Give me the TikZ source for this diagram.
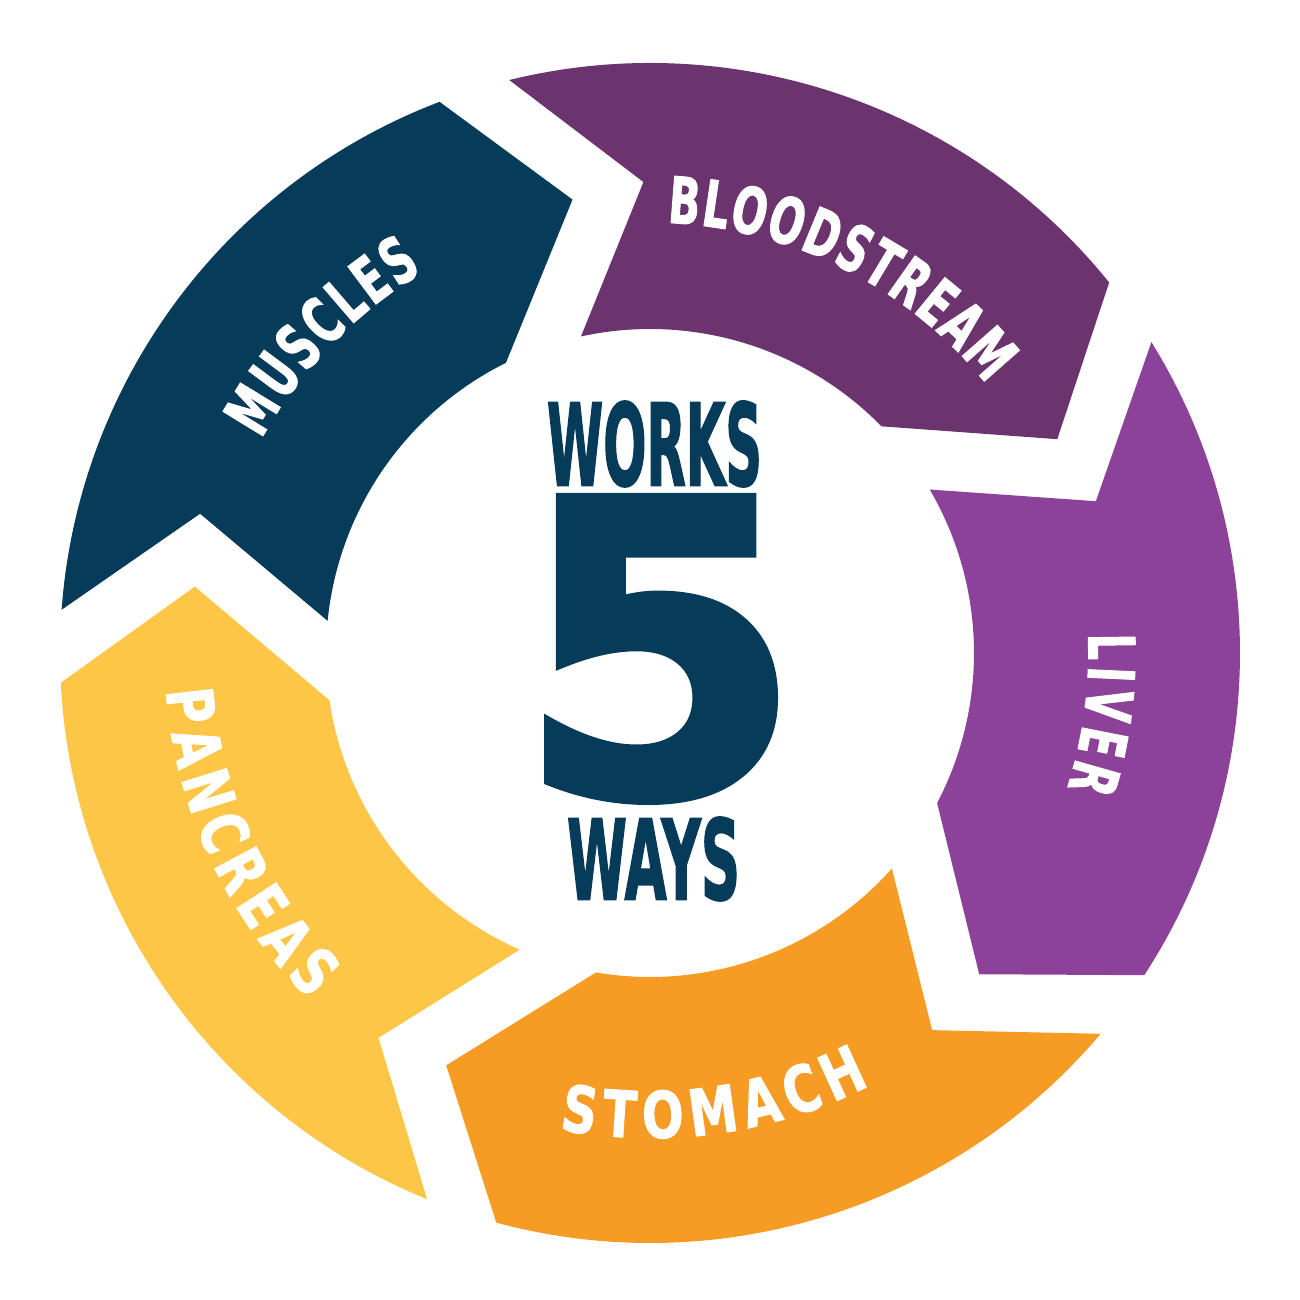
\documentclass[tikz,border=0pt]{standalone}
\usepackage{fontspec}
\usepackage{graphicx}
\usetikzlibrary{decorations.text}

\newfontfamily\labelfont[FakeStretch=0.64, FakeBold=1.5]{DejaVu Sans}
\newfontfamily\widelabelfont[FakeStretch=0.76, FakeBold=1.5]{DejaVu Sans}
\newfontfamily\middlefont[FakeBold=2]{DejaVu Sans}

\definecolor{navy}{HTML}{063B5A}
\definecolor{muscles}{HTML}{063B5A}
\definecolor{blood}{HTML}{6B346E}
\definecolor{liver}{HTML}{8D4299}
\definecolor{stomach}{HTML}{F69C24}
\definecolor{pancreas}{HTML}{FDC647}

\newcommand{\outr}{5.90}
\newcommand{\inr}{3.24}

\begin{document}
\begin{tikzpicture}[
    lbl/.style 2 args={decorate, decoration={text along path,
      text={|#1\bfseries\fontsize{18.3}{20}\selectfont|#2},
      text align={fit to path}, text color=white}},
    mid/.style={inner sep=0pt, text=navy}
  ]

    \useasboundingbox (-6.5,-6.47) rectangle (6.5,6.53);

    \foreach \s/\c in {175.8/muscles, 103.8/blood, 31.8/liver, -40.2/stomach, -112.2/pancreas}
        \fill[\c] (\s:\outr) arc[start angle=\s, end angle=\s-64.9, radius=\outr]
            -- (\s-76.1:4.60) -- (\s-59.4:\inr)
            arc[start angle=\s-59.4, end angle=\s-1.5, radius=\inr]
            -- (\s-13:4.71) -- cycle;

    \path[lbl={\labelfont}{MUSCLES}] (151.2:4.435) arc[start angle=151.2, end angle=120.8, radius=4.435];
    \path[lbl={\labelfont}{BLOODSTREAM}] (87.7:4.305) arc[start angle=87.7, end angle=38.6, radius=4.305];
    \path[lbl={\labelfont}{LIVER}] (2.5:4.385) arc[start angle=2.5, end angle=-17.9, radius=4.385];
    \path[lbl={\widelabelfont}{STOMACH}] (-100.8:4.85) arc[start angle=-100.8, end angle=-63, radius=4.85];
    \path[lbl={\widelabelfont}{PANCREAS}] (184.4:4.855) arc[start angle=184.4, end angle=225.6, radius=4.855];

    \node[mid] (works) at (0.045,2.09) {\resizebox{2.15cm}{0.84cm}{\middlefont\bfseries WORKS}};
    \node[mid] (five) at (0.095,0.04) {\resizebox{2.86cm}{2.98cm}{\middlefont\bfseries 5}};
    \node[mid] (ways) at (0.035,-2.06) {\resizebox{1.73cm}{0.82cm}{\middlefont\bfseries WAYS}};

\end{tikzpicture}
\end{document}
